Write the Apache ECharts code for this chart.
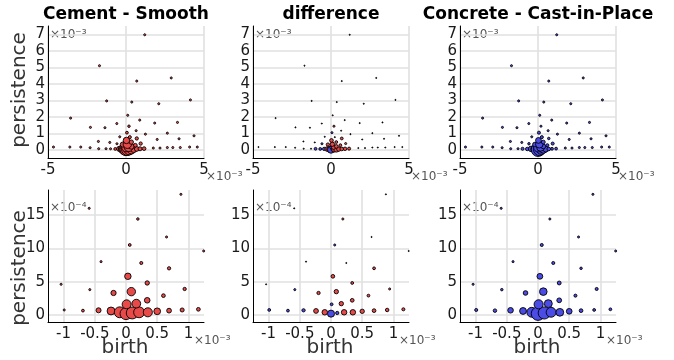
<!DOCTYPE html>
<html>
<head>
<meta charset="utf-8">
<script src="https://cdn.jsdelivr.net/npm/echarts@6/dist/echarts.min.js"></script>
<style>html,body{margin:0;padding:0;background:#fff;}#c{width:674px;height:360px;}</style>
</head>
<body>
<div id="c"></div>
<script>
// birth and persistence in units of 1e-3
const birth = [
  -0.99, -0.69, -0.44, -0.24, -0.10, 0.00, 0.10, 0.21, 0.35, 0.50, 0.69, 0.90, 1.16,
  0.01, 0.165, 0.34, 0.60, -0.20, 0.085, 0.34, 0.94, 0.03, 0.69, 0.245, 0.06, 0.19,
  0.65, -0.40, -0.59, 0.88, 1.245, -1.04, -0.58,
  1.20, -1.70, 0.69, 2.90, -1.24, 0.37, 2.10, 4.13, 0.11, -3.55, -2.28, -1.35, 1.84,
  3.30, 2.65, 4.36, -1.77, 2.00, 3.40,
  -4.65, -3.60, -2.90, -2.30, -1.75, -1.28, 1.75, 2.18, 2.65, 3.00, 3.48, 4.08, 4.57
];
const persistence = [
  0.075, 0.065, 0.07, 0.06, 0.04, 0.02, 0.03, 0.04, 0.04, 0.055, 0.065, 0.075, 0.085,
  0.16, 0.17, 0.22, 0.29, 0.33, 0.35, 0.48, 0.39, 0.58, 0.70, 0.78, 1.05, 1.44,
  1.17, 0.80, 1.60, 1.81, 0.96, 0.46, 0.38,
  6.97, 5.10, 4.17, 4.36, 2.97, 2.90, 2.80, 3.03, 2.10, 1.93, 1.37, 1.35, 1.63,
  1.67, 1.02, 0.86, 0.52, 0.64, 0.68,
  0.18, 0.18, 0.18, 0.14, 0.08, 0.08, 0.12, 0.12, 0.15, 0.15, 0.15, 0.18, 0.18
];
const cementCount = [
  1, 3, 16, 48, 100, 123, 122, 100, 66, 33, 14, 9, 7,
  64, 60, 21, 7, 18, 55, 11, 5, 30, 5, 4, 3, 2,
  1, 1, 1, 1, 1, 1, 1,
  1, 1, 1, 1, 1, 1, 1, 1, 1, 1, 1, 1, 1,
  1, 1, 1, 1, 1, 1,
  1, 1, 1, 1, 1, 1, 1, 1, 1, 1, 1, 1, 1
];
const concreteCount = [
  4, 6, 21, 34, 80, 160, 127, 80, 46, 22, 7, 3, 3,
  67, 49, 14, 4, 13, 44, 8, 4, 23, 2, 4, 4, 1,
  1, 1, 1, 1, 1, 1, 2,
  1, 1, 1, 1, 1, 1, 1, 1, 1, 1, 1, 1, 1,
  1, 1, 1, 1, 1, 1,
  1, 1, 1, 1, 1, 1, 1, 1, 1, 1, 1, 1, 1
];
const titles = ['Cement - Smooth', 'difference', 'Concrete - Cast-in-Place'];
const topXTicks = [-5, 0, 5];
const topYTicks = [0, 1, 2, 3, 4, 5, 6, 7];
const botXTicks = [-1, -0.5, 0, 0.5, 1];
const botYTicks = [0, 0.5, 1.0, 1.5];

const RED = '#E84A4A', BLUE = '#4B4BE6';
const cementData = birth.map((b, i) => [b, persistence[i], cementCount[i]]);
const concreteData = birth.map((b, i) => [b, persistence[i], concreteCount[i]]);
const diffData = birth.map((b, i) => [b, persistence[i], cementCount[i] - concreteCount[i]]);
const datasets = [cementData, diffData, concreteData];
const fixedColor = [RED, null, BLUE];

const lefts = [48, 253, 460];
const W = 156, H = 132.3;
const tops = [26, 190];
const FONT = 'DejaVu Sans';

const grids = [], xAxes = [], yAxes = [], series = [], graphics = [];
let idx = 0;
for (let r = 0; r < 2; r++) {
  for (let c = 0; c < 3; c++) {
    grids.push({left: lefts[c], top: tops[r], width: W, height: H});
    const splitLine = {show: true, lineStyle: {color: '#e0e0e0', width: 1.6}};
    const axisLine = {show: true, onZero: false, lineStyle: {color: '#000', width: 1}};
    const lbl = {fontSize: 15, color: '#1a1a1a', fontFamily: FONT};
    if (r === 0) {
      xAxes.push({type: 'value', gridIndex: idx, min: -5, max: 5,
        axisTick: {show: false, customValues: topXTicks}, axisLine, splitLine,
        axisLabel: Object.assign({customValues: topXTicks, margin: 4}, lbl)});
      yAxes.push({type: 'value', gridIndex: idx, min: -0.5, max: 7.5,
        axisTick: {show: false, customValues: topYTicks}, axisLine, splitLine,
        axisLabel: Object.assign({customValues: topYTicks, margin: 3}, lbl)});
    } else {
      xAxes.push({type: 'value', gridIndex: idx, min: -1.25, max: 1.25,
        axisTick: {show: false, customValues: botXTicks}, axisLine, splitLine,
        axisLabel: Object.assign({customValues: botXTicks, margin: 4}, lbl)});
      yAxes.push({type: 'value', gridIndex: idx, min: -0.11, max: 1.875,
        axisTick: {show: false, customValues: botYTicks}, axisLine, splitLine,
        axisLabel: Object.assign({customValues: botYTicks, margin: 3,
          formatter: v => String(Math.round(v * 10))}, lbl)});
    }
    const fc = fixedColor[c];
    series.push({
      type: 'scatter', xAxisIndex: idx, yAxisIndex: idx, clip: true,
      data: datasets[c],
      symbolSize: v => 1.1 + 0.98 * Math.sqrt(Math.abs(v[2])),
      itemStyle: {
        color: fc ? fc : (p => p.value[2] > 0 ? RED : (p.value[2] < 0 ? BLUE : '#000')),
        borderColor: '#000', borderWidth: 0.9, opacity: 1
      },
      emphasis: {disabled: true}, silent: true
    });
    graphics.push({type: 'text', left: lefts[c] + 2, top: tops[r] + (r === 0 ? 3 : 12),
      style: {text: r === 0 ? '×10⁻³' : '×10⁻⁴', fontSize: 12, fontFamily: FONT, fill: '#555'}});
    graphics.push({type: 'text', left: lefts[c] + (r === 0 ? 158 : 146), top: tops[r] + H + 13,
      style: {text: '×10⁻³', fontSize: 12, fontFamily: FONT, fill: '#555'}});
    idx++;
  }
}
for (let c = 0; c < 3; c++) {
  graphics.push({type: 'text', x: lefts[c] + W / 2, y: 15,
    style: {text: titles[c], fontSize: 17, fontWeight: 'bold', fontFamily: FONT, fill: '#000',
      align: 'center', verticalAlign: 'middle'}});
  graphics.push({type: 'text', x: lefts[c] + W / 2 - 1, y: 348,
    style: {text: 'birth', fontSize: 20, fontFamily: FONT, fill: '#333',
      align: 'center', verticalAlign: 'middle'}});
}
graphics.push({type: 'text', x: 20, y: 90, rotation: Math.PI / 2,
  style: {text: 'persistence', fontSize: 20, fontFamily: FONT, fill: '#333', align: 'center', verticalAlign: 'middle'}});
graphics.push({type: 'text', x: 20, y: 268, rotation: Math.PI / 2,
  style: {text: 'persistence', fontSize: 20, fontFamily: FONT, fill: '#333', align: 'center', verticalAlign: 'middle'}});

const chart = echarts.init(document.getElementById('c'), null, {renderer: 'canvas'});
chart.setOption({
  animation: false,
  backgroundColor: '#fff',
  grid: grids, xAxis: xAxes, yAxis: yAxes, series: series, graphic: graphics
});
</script>
</body>
</html>
